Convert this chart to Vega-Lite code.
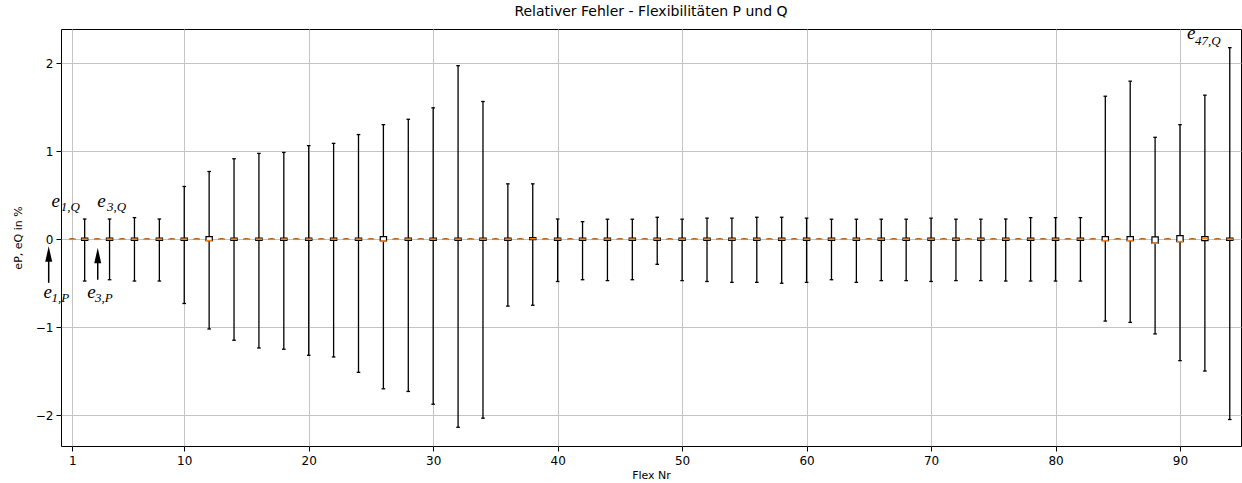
{
  "$schema": "https://vega.github.io/schema/vega-lite/v6.json",
  "width": 1180,
  "height": 417,
  "autosize": {"type": "none"},
  "padding": {"left": 61, "top": 29, "right": 1, "bottom": 37},
  "background": "white",
  "config": {
    "font": "DejaVu Sans",
    "view": {"stroke": "black", "strokeWidth": 1},
    "axis": {
      "grid": true, "gridColor": "#c4c4c4", "gridWidth": 1,
      "domain": false, "tickColor": "black", "tickSize": 5, "tickWidth": 1,
      "labelFont": "DejaVu Sans", "labelFontSize": 12, "labelColor": "black",
      "titleFont": "DejaVu Sans", "titleFontSize": 11, "titleFontWeight": "normal", "titleColor": "black"
    }
  },
  "title": {"text": "Relativer Fehler - Flexibilitäten P und Q", "font": "DejaVu Sans", "fontSize": 14, "fontWeight": "normal", "color": "black", "offset": 5, "anchor": "middle"},
  "datasets": {
    "box": [
      {"pos": 1, "lo": 0, "q1": 0, "med": 0, "q3": 0, "hi": 0},
      {"pos": 2, "lo": -0.475, "q1": -0.012, "med": 0, "q3": 0.012, "hi": 0.23},
      {"pos": 3, "lo": 0, "q1": 0, "med": 0, "q3": 0, "hi": 0},
      {"pos": 4, "lo": -0.46, "q1": -0.012, "med": 0, "q3": 0.012, "hi": 0.23},
      {"pos": 5, "lo": 0, "q1": 0, "med": 0, "q3": 0, "hi": 0},
      {"pos": 6, "lo": -0.475, "q1": -0.012, "med": 0, "q3": 0.012, "hi": 0.246},
      {"pos": 7, "lo": 0, "q1": 0, "med": 0, "q3": 0, "hi": 0},
      {"pos": 8, "lo": -0.475, "q1": -0.012, "med": 0, "q3": 0.012, "hi": 0.23},
      {"pos": 9, "lo": 0, "q1": 0, "med": 0, "q3": 0, "hi": 0},
      {"pos": 10, "lo": -0.73, "q1": -0.012, "med": 0, "q3": 0.012, "hi": 0.6},
      {"pos": 11, "lo": 0, "q1": 0, "med": 0, "q3": 0, "hi": 0},
      {"pos": 12, "lo": -1.02, "q1": -0.016, "med": -0.016, "q3": 0.03, "hi": 0.77},
      {"pos": 13, "lo": 0, "q1": 0, "med": 0, "q3": 0, "hi": 0},
      {"pos": 14, "lo": -1.148, "q1": -0.012, "med": 0, "q3": 0.012, "hi": 0.915},
      {"pos": 15, "lo": 0, "q1": 0, "med": 0, "q3": 0, "hi": 0},
      {"pos": 16, "lo": -1.236, "q1": -0.012, "med": 0, "q3": 0.012, "hi": 0.976},
      {"pos": 17, "lo": 0, "q1": 0, "med": 0, "q3": 0, "hi": 0},
      {"pos": 18, "lo": -1.25, "q1": -0.012, "med": 0, "q3": 0.012, "hi": 0.987},
      {"pos": 19, "lo": 0, "q1": 0, "med": 0, "q3": 0, "hi": 0},
      {"pos": 20, "lo": -1.319, "q1": -0.012, "med": 0, "q3": 0.012, "hi": 1.064},
      {"pos": 21, "lo": 0, "q1": 0, "med": 0, "q3": 0, "hi": 0},
      {"pos": 22, "lo": -1.338, "q1": -0.012, "med": 0, "q3": 0.012, "hi": 1.09},
      {"pos": 23, "lo": 0, "q1": 0, "med": 0, "q3": 0, "hi": 0},
      {"pos": 24, "lo": -1.513, "q1": -0.012, "med": 0, "q3": 0.012, "hi": 1.19},
      {"pos": 25, "lo": 0, "q1": 0, "med": 0, "q3": 0, "hi": 0},
      {"pos": 26, "lo": -1.7, "q1": -0.02, "med": -0.02, "q3": 0.03, "hi": 1.303},
      {"pos": 27, "lo": 0, "q1": 0, "med": 0, "q3": 0, "hi": 0},
      {"pos": 28, "lo": -1.73, "q1": -0.012, "med": 0, "q3": 0.012, "hi": 1.364},
      {"pos": 29, "lo": 0, "q1": 0, "med": 0, "q3": 0, "hi": 0},
      {"pos": 30, "lo": -1.875, "q1": -0.012, "med": 0, "q3": 0.012, "hi": 1.494},
      {"pos": 31, "lo": 0, "q1": 0, "med": 0, "q3": 0, "hi": 0},
      {"pos": 32, "lo": -2.137, "q1": -0.012, "med": 0, "q3": 0.012, "hi": 1.973},
      {"pos": 33, "lo": 0, "q1": 0, "med": 0, "q3": 0, "hi": 0},
      {"pos": 34, "lo": -2.034, "q1": -0.012, "med": 0, "q3": 0.012, "hi": 1.566},
      {"pos": 35, "lo": 0, "q1": 0, "med": 0, "q3": 0, "hi": 0},
      {"pos": 36, "lo": -0.76, "q1": -0.012, "med": 0, "q3": 0.012, "hi": 0.63},
      {"pos": 37, "lo": 0, "q1": 0, "med": 0, "q3": 0, "hi": 0},
      {"pos": 38, "lo": -0.75, "q1": -0.005, "med": 0.006, "q3": 0.02, "hi": 0.63},
      {"pos": 39, "lo": 0, "q1": 0, "med": 0, "q3": 0, "hi": 0},
      {"pos": 40, "lo": -0.48, "q1": -0.012, "med": 0, "q3": 0.012, "hi": 0.23},
      {"pos": 41, "lo": 0, "q1": 0, "med": 0, "q3": 0, "hi": 0},
      {"pos": 42, "lo": -0.46, "q1": -0.012, "med": 0, "q3": 0.012, "hi": 0.2},
      {"pos": 43, "lo": 0, "q1": 0, "med": 0, "q3": 0, "hi": 0},
      {"pos": 44, "lo": -0.47, "q1": -0.012, "med": 0, "q3": 0.012, "hi": 0.228},
      {"pos": 45, "lo": 0, "q1": 0, "med": 0, "q3": 0, "hi": 0},
      {"pos": 46, "lo": -0.46, "q1": -0.012, "med": 0, "q3": 0.012, "hi": 0.228},
      {"pos": 47, "lo": 0, "q1": 0, "med": 0, "q3": 0, "hi": 0},
      {"pos": 48, "lo": -0.285, "q1": -0.012, "med": 0, "q3": 0.012, "hi": 0.25},
      {"pos": 49, "lo": 0, "q1": 0, "med": 0, "q3": 0, "hi": 0},
      {"pos": 50, "lo": -0.47, "q1": -0.012, "med": 0, "q3": 0.012, "hi": 0.228},
      {"pos": 51, "lo": 0, "q1": 0, "med": 0, "q3": 0, "hi": 0},
      {"pos": 52, "lo": -0.48, "q1": -0.012, "med": 0, "q3": 0.012, "hi": 0.24},
      {"pos": 53, "lo": 0, "q1": 0, "med": 0, "q3": 0, "hi": 0},
      {"pos": 54, "lo": -0.49, "q1": -0.012, "med": 0, "q3": 0.012, "hi": 0.24},
      {"pos": 55, "lo": 0, "q1": 0, "med": 0, "q3": 0, "hi": 0},
      {"pos": 56, "lo": -0.49, "q1": -0.012, "med": 0, "q3": 0.012, "hi": 0.25},
      {"pos": 57, "lo": 0, "q1": 0, "med": 0, "q3": 0, "hi": 0},
      {"pos": 58, "lo": -0.5, "q1": -0.012, "med": 0, "q3": 0.012, "hi": 0.25},
      {"pos": 59, "lo": 0, "q1": 0, "med": 0, "q3": 0, "hi": 0},
      {"pos": 60, "lo": -0.49, "q1": -0.012, "med": 0, "q3": 0.012, "hi": 0.24},
      {"pos": 61, "lo": 0, "q1": 0, "med": 0, "q3": 0, "hi": 0},
      {"pos": 62, "lo": -0.46, "q1": -0.012, "med": 0, "q3": 0.012, "hi": 0.228},
      {"pos": 63, "lo": 0, "q1": 0, "med": 0, "q3": 0, "hi": 0},
      {"pos": 64, "lo": -0.49, "q1": -0.012, "med": 0, "q3": 0.012, "hi": 0.228},
      {"pos": 65, "lo": 0, "q1": 0, "med": 0, "q3": 0, "hi": 0},
      {"pos": 66, "lo": -0.47, "q1": -0.012, "med": 0, "q3": 0.012, "hi": 0.228},
      {"pos": 67, "lo": 0, "q1": 0, "med": 0, "q3": 0, "hi": 0},
      {"pos": 68, "lo": -0.47, "q1": -0.012, "med": 0, "q3": 0.012, "hi": 0.228},
      {"pos": 69, "lo": 0, "q1": 0, "med": 0, "q3": 0, "hi": 0},
      {"pos": 70, "lo": -0.48, "q1": -0.012, "med": 0, "q3": 0.012, "hi": 0.24},
      {"pos": 71, "lo": 0, "q1": 0, "med": 0, "q3": 0, "hi": 0},
      {"pos": 72, "lo": -0.47, "q1": -0.012, "med": 0, "q3": 0.012, "hi": 0.228},
      {"pos": 73, "lo": 0, "q1": 0, "med": 0, "q3": 0, "hi": 0},
      {"pos": 74, "lo": -0.47, "q1": -0.012, "med": 0, "q3": 0.012, "hi": 0.228},
      {"pos": 75, "lo": 0, "q1": 0, "med": 0, "q3": 0, "hi": 0},
      {"pos": 76, "lo": -0.475, "q1": -0.012, "med": 0, "q3": 0.012, "hi": 0.23},
      {"pos": 77, "lo": 0, "q1": 0, "med": 0, "q3": 0, "hi": 0},
      {"pos": 78, "lo": -0.475, "q1": -0.012, "med": 0, "q3": 0.012, "hi": 0.246},
      {"pos": 79, "lo": 0, "q1": 0, "med": 0, "q3": 0, "hi": 0},
      {"pos": 80, "lo": -0.475, "q1": -0.012, "med": 0, "q3": 0.012, "hi": 0.246},
      {"pos": 81, "lo": 0, "q1": 0, "med": 0, "q3": 0, "hi": 0},
      {"pos": 82, "lo": -0.475, "q1": -0.012, "med": 0, "q3": 0.012, "hi": 0.246},
      {"pos": 83, "lo": 0, "q1": 0, "med": 0, "q3": 0, "hi": 0},
      {"pos": 84, "lo": -0.93, "q1": -0.016, "med": -0.016, "q3": 0.03, "hi": 1.626},
      {"pos": 85, "lo": 0, "q1": 0, "med": 0, "q3": 0, "hi": 0},
      {"pos": 86, "lo": -0.945, "q1": -0.016, "med": -0.016, "q3": 0.03, "hi": 1.797},
      {"pos": 87, "lo": 0, "q1": 0, "med": 0, "q3": 0, "hi": 0},
      {"pos": 88, "lo": -1.076, "q1": -0.045, "med": -0.045, "q3": 0.026, "hi": 1.159},
      {"pos": 89, "lo": 0, "q1": 0, "med": 0, "q3": 0, "hi": 0},
      {"pos": 90, "lo": -1.38, "q1": -0.027, "med": -0.027, "q3": 0.041, "hi": 1.303},
      {"pos": 91, "lo": 0, "q1": 0, "med": 0, "q3": 0, "hi": 0},
      {"pos": 92, "lo": -1.498, "q1": -0.016, "med": 0.01, "q3": 0.03, "hi": 1.638},
      {"pos": 93, "lo": 0, "q1": 0, "med": 0, "q3": 0, "hi": 0},
      {"pos": 94, "lo": -2.049, "q1": -0.012, "med": 0, "q3": 0.012, "hi": 2.178}
    ],
    "annE": [
      {"x": -0.67, "y": 0.372, "t": "e"},
      {"x": 3.02, "y": 0.372, "t": "e"},
      {"x": -1.31, "y": -0.673, "t": "e"},
      {"x": 2.2, "y": -0.673, "t": "e"},
      {"x": 90.56, "y": 2.272, "t": "e"}
    ],
    "annSub": [
      {"x": 0.08, "y": 0.326, "t": "1,Q"},
      {"x": 3.79, "y": 0.326, "t": "3,Q"},
      {"x": -0.67, "y": -0.711, "t": "1,P"},
      {"x": 2.83, "y": -0.711, "t": "3,P"},
      {"x": 91.2, "y": 2.207, "t": "47,Q"}
    ],
    "arrow": [
      {"x": -0.89, "tip": -0.168, "base": -0.495},
      {"x": 3.05, "tip": -0.185, "base": -0.46}
    ]
  },
  "layer": [
    {
      "data": {"name": "box"},
      "mark": {"type": "rule", "color": "black", "strokeWidth": 1.3},
      "encoding": {
        "x": {"field": "pos", "type": "quantitative",
          "scale": {"domain": [0.5, 94.5], "nice": false, "zero": false},
          "axis": {"values": [1, 10, 20, 30, 40, 50, 60, 70, 80, 90], "format": "d", "title": "Flex Nr", "labelPadding": 4, "titlePadding": 3, "labelFlush": false}},
        "y": {"field": "lo", "type": "quantitative",
          "scale": {"domain": [-2.35, 2.39], "nice": false, "zero": false},
          "axis": {"values": [-2, -1, 0, 1, 2], "format": "d", "title": "eP, eQ in %", "labelPadding": 3, "titlePadding": 12}},
        "y2": {"field": "hi"}
      }
    },
    {
      "data": {"name": "box"},
      "mark": {"type": "tick", "orient": "horizontal", "color": "black", "size": 3.6, "thickness": 1.3, "opacity": 1},
      "encoding": {
        "x": {"field": "pos", "type": "quantitative"},
        "y": {"field": "lo", "type": "quantitative"}
      }
    },
    {
      "data": {"name": "box"},
      "mark": {"type": "tick", "orient": "horizontal", "color": "black", "size": 3.6, "thickness": 1.3, "opacity": 1},
      "encoding": {
        "x": {"field": "pos", "type": "quantitative"},
        "y": {"field": "hi", "type": "quantitative"}
      }
    },
    {
      "data": {"name": "box"},
      "mark": {"type": "bar", "size": 6.3, "fill": "white", "stroke": "black", "strokeWidth": 1.2, "opacity": 1},
      "encoding": {
        "x": {"field": "pos", "type": "quantitative"},
        "y": {"field": "q1", "type": "quantitative"},
        "y2": {"field": "q3"}
      }
    },
    {
      "data": {"name": "box"},
      "mark": {"type": "tick", "orient": "horizontal", "color": "#ff7f0e", "size": 6.3, "thickness": 1.6, "opacity": 1},
      "encoding": {
        "x": {"field": "pos", "type": "quantitative"},
        "y": {"field": "med", "type": "quantitative"}
      }
    },
    {
      "data": {"name": "arrow"},
      "mark": {"type": "rule", "color": "black", "strokeWidth": 1.5},
      "encoding": {
        "x": {"field": "x", "type": "quantitative"},
        "y": {"field": "base", "type": "quantitative"},
        "y2": {"field": "tip"}
      }
    },
    {
      "data": {"name": "arrow"},
      "mark": {"type": "point", "shape": "M0,-1L0.45,1L-0.45,1Z", "size": 240, "filled": true, "color": "black", "opacity": 1, "strokeWidth": 0},
      "encoding": {
        "x": {"field": "x", "type": "quantitative"},
        "y": {"field": "tip", "type": "quantitative"}
      }
    },
    {
      "data": {"name": "annE"},
      "mark": {"type": "text", "font": "Liberation Serif", "fontStyle": "italic", "fontSize": 19, "align": "left", "baseline": "alphabetic", "color": "black"},
      "encoding": {
        "x": {"field": "x", "type": "quantitative"},
        "y": {"field": "y", "type": "quantitative"},
        "text": {"field": "t"}
      }
    },
    {
      "data": {"name": "annSub"},
      "mark": {"type": "text", "font": "Liberation Serif", "fontStyle": "italic", "fontSize": 13, "align": "left", "baseline": "alphabetic", "color": "black"},
      "encoding": {
        "x": {"field": "x", "type": "quantitative"},
        "y": {"field": "y", "type": "quantitative"},
        "text": {"field": "t"}
      }
    }
  ]
}
